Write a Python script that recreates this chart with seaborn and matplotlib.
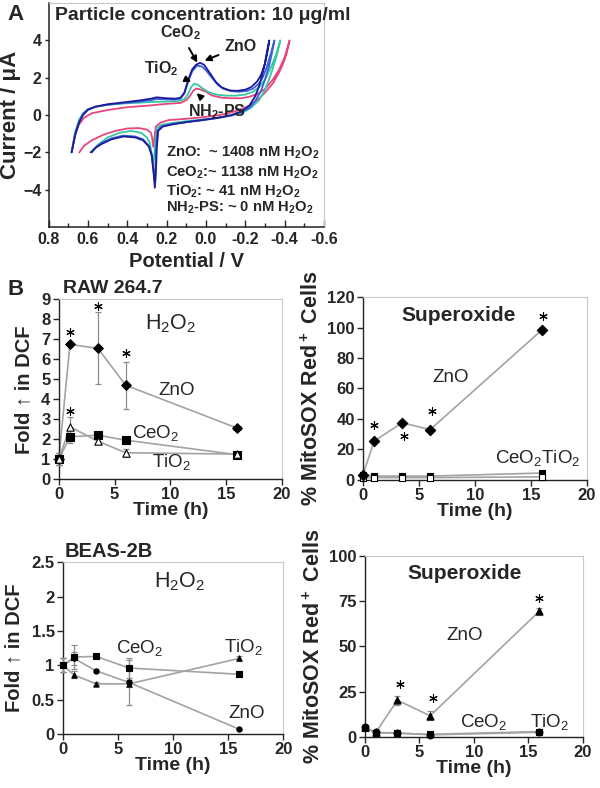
"""
ROS figure: (A) cyclic voltammetry of particles, (B) DCF / MitoSOX time courses
in RAW 264.7 and BEAS-2B cells.
"""
import matplotlib
matplotlib.use("Agg")
import matplotlib.pyplot as plt
import numpy as np
import pandas as pd
import seaborn as sns

# --------------------------------------------------------------------------- #
# Panel A data: CV traces (potential V, current uA)
# --------------------------------------------------------------------------- #
zno_cv_x = [0.683, 0.665, 0.645, 0.625, 0.60, 0.56, 0.50, 0.42, 0.34, 0.28, 0.25, 0.20, 0.16,
            0.13, 0.11, 0.09, 0.07, 0.05, 0.03, 0.01, -0.02, -0.05, -0.08, -0.12, -0.16, -0.20,
            -0.23, -0.26, -0.28, -0.30, -0.312, -0.322,
            -0.31, -0.30, -0.285, -0.27, -0.25, -0.22, -0.18, -0.13, -0.06, 0.02, 0.10, 0.17,
            0.22, 0.243, 0.25, 0.255, 0.26, 0.265, 0.275, 0.29, 0.32, 0.36, 0.42, 0.48, 0.53,
            0.56, 0.586]
zno_cv_y = [-2.0, -1.1, -0.4, 0.0, 0.28, 0.45, 0.58, 0.68, 0.78, 0.88, 0.95, 0.90, 0.88,
            0.92, 1.2, 1.9, 2.45, 2.7, 2.8, 2.7, 2.25, 1.78, 1.48, 1.32, 1.3, 1.36,
            1.5, 1.8, 2.15, 2.75, 3.35, 4.0,
            3.4, 2.8, 2.1, 1.55, 1.0, 0.5, 0.2, 0.0, -0.15, -0.27, -0.38, -0.5,
            -0.62, -0.85, -1.8, -3.2, -3.9, -3.2, -2.2, -1.7, -1.35, -1.2, -1.15, -1.3, -1.55,
            -1.75, -2.0]

ceo2_cv_x = [0.683, 0.665, 0.645, 0.625, 0.60, 0.56, 0.50, 0.42, 0.34, 0.28, 0.25, 0.20, 0.16,
             0.13, 0.11, 0.09, 0.07, 0.045, 0.02, 0.0, -0.03, -0.06, -0.09, -0.13, -0.17, -0.21,
             -0.24, -0.27, -0.29, -0.31, -0.33, -0.348,
             -0.335, -0.32, -0.30, -0.28, -0.25, -0.22, -0.18, -0.13, -0.06, 0.02, 0.10, 0.17,
             0.225, 0.248, 0.254, 0.258, 0.262, 0.267, 0.276, 0.29, 0.32, 0.36, 0.42, 0.48, 0.53,
             0.56, 0.58]
ceo2_cv_y = [-2.0, -1.0, -0.35, 0.05, 0.3, 0.45, 0.55, 0.64, 0.72, 0.8, 0.86, 0.84, 0.83,
             0.88, 1.15, 1.8, 2.35, 2.65, 2.6, 2.4, 2.0, 1.62, 1.4, 1.28, 1.25, 1.3,
             1.42, 1.7, 2.05, 2.6, 3.3, 4.0,
             3.3, 2.6, 1.9, 1.3, 0.75, 0.38, 0.15, -0.02, -0.16, -0.28, -0.38, -0.48,
             -0.6, -0.85, -1.8, -3.0, -3.5, -3.0, -2.1, -1.65, -1.3, -1.15, -1.1, -1.25, -1.5,
             -1.72, -2.0]

tio2_cv_x = [0.683, 0.665, 0.645, 0.625, 0.60, 0.56, 0.50, 0.42, 0.34, 0.28, 0.20, 0.14,
             0.11, 0.09, 0.075, 0.06, 0.04, 0.02, -0.01, -0.05, -0.10, -0.15, -0.20, -0.24,
             -0.27, -0.30, -0.33, -0.355, -0.378,
             -0.36, -0.34, -0.32, -0.30, -0.27, -0.23, -0.19, -0.13, -0.06, 0.02, 0.10, 0.17,
             0.225, 0.25, 0.258, 0.264, 0.27, 0.276, 0.285, 0.30, 0.33, 0.38, 0.44, 0.50,
             0.55, 0.58]
tio2_cv_y = [-2.0, -0.9, -0.25, 0.1, 0.32, 0.46, 0.55, 0.62, 0.66, 0.7, 0.72, 0.75,
             0.85, 1.15, 1.5, 1.68, 1.62, 1.45, 1.25, 1.1, 1.04, 1.04, 1.1, 1.25,
             1.5, 1.9, 2.55, 3.2, 4.0,
             3.2, 2.5, 1.9, 1.35, 0.8, 0.4, 0.15, -0.02, -0.14, -0.24, -0.33, -0.42,
             -0.52, -0.7, -1.4, -2.3, -2.6, -2.1, -1.5, -1.2, -0.95, -0.85, -0.95, -1.2,
             -1.6, -2.0]

nh2ps_cv_x = [0.683, 0.665, 0.645, 0.62, 0.58, 0.50, 0.40, 0.30, 0.20, 0.13, 0.10, 0.08,
              0.065, 0.05, 0.03, 0.0, -0.03, -0.08, -0.13, -0.18, -0.22, -0.26, -0.30, -0.34,
              -0.37, -0.40, -0.425,
              -0.41, -0.39, -0.37, -0.34, -0.30, -0.26, -0.22, -0.17, -0.12, -0.07, 0.02, 0.10,
              0.19, 0.23, 0.255, 0.262, 0.268, 0.274, 0.28, 0.30, 0.34, 0.40, 0.46, 0.52,
              0.58, 0.62, 0.644]
nh2ps_cv_y = [-2.0, -1.0, -0.5, -0.15, 0.1, 0.27, 0.42, 0.5, 0.6, 0.65, 0.8, 1.05,
              1.3, 1.42, 1.38, 1.25, 1.05, 0.93, 0.9, 0.9, 0.98, 1.12, 1.4, 1.9,
              2.4, 3.1, 4.0,
              3.3, 2.7, 2.25, 1.7, 1.2, 0.8, 0.5, 0.27, 0.12, 0.0, -0.12, -0.2,
              -0.27, -0.4, -0.62, -1.2, -1.7, -1.2, -0.95, -0.78, -0.7, -0.72, -0.85, -1.05,
              -1.35, -1.65, -2.0]

cv_labels = ["NH2-PS", "TiO2", "CeO2", "ZnO"]
cv_colors = ["#e8457f", "#35c8a2", "#3a5fe0", "#1c1c96"]

conc_lines = ["ZnO:  ~ 1408 nM H$_2$O$_2$",
              "CeO$_2$:~ 1138 nM H$_2$O$_2$",
              "TiO$_2$: ~ 41 nM H$_2$O$_2$",
              "NH$_2$-PS: ~ 0 nM H$_2$O$_2$"]

# --------------------------------------------------------------------------- #
# Panel B data
# --------------------------------------------------------------------------- #
t_raw = [0, 1, 3.5, 6, 16]
t_beas = [0, 1, 3, 6, 16]

raw_h2o2_zno = [1.0, 6.75, 6.55, 4.7, 2.55]
raw_h2o2_zno_err = [0.3, 0.1, 1.8, 1.17, 0.05]
raw_h2o2_ceo2 = [1.0, 2.12, 2.2, 1.95, 1.22]
raw_h2o2_ceo2_err = [0.3, 0.33, 0.1, 0.15, 0.05]
raw_h2o2_tio2 = [1.0, 2.62, 1.9, 1.32, 1.25]
raw_h2o2_tio2_err = [0.3, 0.5, 0.15, 0.2, 0.05]
raw_h2o2_star_t = [1, 1, 3.5, 6, 16]
raw_h2o2_star_y = [7.35, 3.4, 8.65, 6.3, 2.55]

raw_sox_zno = [3.5, 25.5, 37.5, 33.0, 98.5]
raw_sox_ceo2 = [3.5, 2.5, 2.5, 2.5, 4.5]
raw_sox_tio2 = [1.5, 1.5, 1.5, 1.5, 2.0]
raw_sox_err = [0.5, 0.5, 0.5, 0.5, 0.5]
raw_sox_star_t = [1, 3.7, 6.2, 16.1]
raw_sox_star_y = [36, 29, 45, 107.5]

beas_h2o2_ceo2 = [1.0, 1.12, 1.13, 0.96, 0.87]
beas_h2o2_ceo2_err = [0.1, 0.18, 0.02, 0.14, 0.02]
beas_h2o2_zno = [1.0, 1.1, 0.92, 0.75, 0.07]
beas_h2o2_zno_err = [0.1, 0.1, 0.02, 0.33, 0.01]
beas_h2o2_tio2 = [1.0, 0.86, 0.73, 0.73, 1.10]
beas_h2o2_tio2_err = [0.1, 0.05, 0.02, 0.05, 0.04]

beas_sox_zno = [5.3, 2.5, 20.3, 11.7, 69.3]
beas_sox_zno_err = [0.5, 0.5, 2.5, 2.5, 2.0]
beas_sox_ceo2 = [5.3, 2.5, 2.3, 1.2, 2.6]
beas_sox_tio2 = [5.0, 2.4, 2.0, 1.5, 3.0]
beas_sox_small_err = [0.3, 0.3, 0.3, 0.3, 0.3]
beas_sox_star_t = [3.25, 6.3, 16]
beas_sox_star_y = [29.5, 21.5, 76.5]

LINE_GRAY = "#a3a3a3"
FRAME_GRAY = "#c8c8c8"
STAR = (6, 2, 0)


def series_frame(t, parts):
    rows = []
    for name, vals, errs in parts:
        rows.append(pd.DataFrame({"time": t, "value": vals, "err": errs, "particle": name}))
    return pd.concat(rows, ignore_index=True)


def style_b_axes(ax, xmax, ymax, ystep, ylabels=None):
    ax.set_xlim(0, xmax)
    ax.set_ylim(0, ymax)
    ax.set_xticks(np.arange(0, xmax + 1, 5))
    yt = np.arange(0, ymax + ystep / 2, ystep)
    ax.set_yticks(yt)
    if ylabels is not None:
        ax.set_yticklabels(ylabels)
    for s in ["top", "right"]:
        ax.spines[s].set_color(FRAME_GRAY)
        ax.spines[s].set_linewidth(0.8)
    for s in ["left", "bottom"]:
        ax.spines[s].set_color("#222222")
        ax.spines[s].set_linewidth(1.0)
    ax.tick_params(direction="out", length=4, width=1, labelsize=12, pad=2)
    for lab in ax.get_xticklabels() + ax.get_yticklabels():
        lab.set_fontweight("bold")
    ax.set_xlabel("Time (h)", fontsize=14, fontweight="bold", labelpad=0)


def draw_series(ax, df, markers):
    for name in df["particle"].unique():
        sub = df[df["particle"] == name]
        sns.lineplot(data=sub, x="time", y="value", color=LINE_GRAY, lw=1.2,
                     estimator=None, sort=False, ax=ax, legend=False, clip_on=False)
    ax.errorbar(df["time"], df["value"], yerr=df["err"], fmt="none", ecolor="#8c8c8c",
                elinewidth=0.9, capsize=2.5, capthick=0.9, zorder=3, clip_on=False)
    for name in df["particle"].unique():
        sub = df[df["particle"] == name]
        m, fc, size = markers[name]
        sns.scatterplot(data=sub, x="time", y="value", marker=m, color=fc, edgecolor="black",
                        linewidth=0.8, s=size, ax=ax, legend=False, zorder=4, clip_on=False)
    ax.set_xlabel("")
    ax.set_ylabel("")


def draw_stars(ax, st, sy):
    sns.scatterplot(x=st, y=sy, marker=STAR, color="black", edgecolor="black",
                    linewidth=0.8, s=30, ax=ax, legend=False, zorder=5, clip_on=False)


def main():
    sns.set_style("ticks")
    plt.rcParams["font.family"] = ["Liberation Sans", "DejaVu Sans"]
    plt.rcParams["mathtext.default"] = "regular"

    fig = plt.figure(figsize=(6, 7.88), dpi=100)

    # --- Panel A ---------------------------------------------------------
    ax = fig.add_axes([0.081, 0.712, 0.459, 0.284])
    cv_x = [nh2ps_cv_x, tio2_cv_x, ceo2_cv_x, zno_cv_x]
    cv_y = [nh2ps_cv_y, tio2_cv_y, ceo2_cv_y, zno_cv_y]
    for xs, ys, c in zip(cv_x, cv_y, cv_colors):
        sns.lineplot(x=xs, y=ys, sort=False, estimator=None, color=c, lw=1.3, ax=ax)
    ax.set_xlim(0.8, -0.6)
    ax.set_ylim(-6, 6)
    ax.set_xticks([0.8, 0.6, 0.4, 0.2, 0.0, -0.2, -0.4, -0.6])
    ax.set_xticklabels(["0.8", "0.6", "0.4", "0.2", "0.0", "-0.2", "-0.4", "-0.6"])
    ax.set_xticks([0.7, 0.5, 0.3, 0.1, -0.1, -0.3, -0.5], minor=True)
    ax.set_yticks([-4, -2, 0, 2, 4])
    ax.tick_params(axis="x", which="major", direction="in", length=5, width=1, labelsize=11.5, pad=4)
    ax.tick_params(axis="x", which="minor", direction="in", length=3, width=1)
    ax.tick_params(axis="y", direction="out", length=3, width=1, labelsize=11.5, pad=2)
    for lab in ax.get_xticklabels() + ax.get_yticklabels():
        lab.set_fontweight("bold")
    for s in ["top", "right"]:
        ax.spines[s].set_color(FRAME_GRAY)
    for s in ["left", "bottom"]:
        ax.spines[s].set_color("#222222")
        ax.spines[s].set_linewidth(1.1)
    ax.set_xlabel("Potential / V", fontsize=14.5, fontweight="bold", labelpad=3)
    ax.set_ylabel("Current / μA", fontsize=16, fontweight="bold", labelpad=2)
    ax.text(0.023, 0.946, "Particle concentration: 10 μg/ml", transform=ax.transAxes,
            fontsize=14, fontweight="bold", va="center", ha="left")

    arrow = dict(arrowstyle="-|>", color="black", lw=1.4, mutation_scale=9)
    lab = dict(fontsize=11.5, fontweight="bold", ha="center", va="center")
    ax.annotate("CeO$_2$", xy=(0.037, 2.68), xytext=(0.13, 4.4), arrowprops=arrow, **lab)
    ax.annotate("ZnO", xy=(0.02, 2.86), xytext=(-0.175, 3.7), arrowprops=arrow, **lab)
    ax.annotate("TiO$_2$", xy=(0.062, 1.72), xytext=(0.225, 2.5), arrowprops=arrow, **lab)
    ax.text(-0.055, 0.18, "NH$_2$-PS", **lab)
    ax.annotate("", xy=(0.058, 1.28), xytext=(0.012, 0.82), arrowprops=arrow)
    for yv, txt in zip([-2.04, -3.1, -4.1, -5.0], conc_lines):
        ax.text(0.205, yv, txt, fontsize=10.6, fontweight="bold", ha="left", va="center")

    fig.text(0.012, 0.981, "A", fontsize=16, fontweight="bold", va="center")
    fig.text(0.012, 0.632, "B", fontsize=16, fontweight="bold", va="center")

    txt = dict(fontsize=13.5, ha="center", va="center")

    # --- RAW 264.7, H2O2 -------------------------------------------------
    ax = fig.add_axes([0.098, 0.392, 0.372, 0.228])
    df = series_frame(t_raw, [("ZnO", raw_h2o2_zno, raw_h2o2_zno_err),
                              ("CeO2", raw_h2o2_ceo2, raw_h2o2_ceo2_err),
                              ("TiO2", raw_h2o2_tio2, raw_h2o2_tio2_err)])
    draw_series(ax, df, {"ZnO": ("D", "black", 24), "CeO2": ("s", "black", 28),
                         "TiO2": ("^", "white", 28)})
    draw_stars(ax, raw_h2o2_star_t, raw_h2o2_star_y)
    style_b_axes(ax, 20, 9, 1)
    ax.set_ylabel("Fold ↑ in DCF", fontsize=14.5, fontweight="bold", labelpad=6)
    ax.text(10, 7.8, "H$_2$O$_2$", fontsize=15.5, ha="center", va="center")
    ax.text(10.6, 4.45, "ZnO", **txt)
    ax.text(8.7, 2.3, "CeO$_2$", **txt)
    ax.text(10.1, 0.85, "TiO$_2$", **txt)
    fig.text(0.105, 0.634, "RAW 264.7", fontsize=14, fontweight="bold", va="center")

    # --- RAW 264.7, superoxide ------------------------------------------
    ax = fig.add_axes([0.605, 0.391, 0.373, 0.232])
    df = series_frame(t_raw, [("CeO2", raw_sox_ceo2, raw_sox_err),
                              ("TiO2", raw_sox_tio2, raw_sox_err),
                              ("ZnO", raw_sox_zno, raw_sox_err)])
    draw_series(ax, df, {"ZnO": ("D", "black", 28), "CeO2": ("s", "black", 22),
                         "TiO2": ("s", "white", 16)})
    draw_stars(ax, raw_sox_star_t, raw_sox_star_y)
    style_b_axes(ax, 20, 120, 20)
    ax.set_ylabel("% MitoSOX Red$^+$ Cells", fontsize=15.5, fontweight="bold", labelpad=3)
    ax.text(8.5, 108, "Superoxide", fontsize=15, fontweight="bold", ha="center", va="center")
    ax.text(7.8, 67, "ZnO", **txt)
    ax.text(15.6, 14.5, "CeO$_2$TiO$_2$", **txt)

    # --- BEAS-2B, H2O2 ---------------------------------------------------
    ax = fig.add_axes([0.105, 0.0685, 0.367, 0.218])
    df = series_frame(t_beas, [("CeO2", beas_h2o2_ceo2, beas_h2o2_ceo2_err),
                               ("ZnO", beas_h2o2_zno, beas_h2o2_zno_err),
                               ("TiO2", beas_h2o2_tio2, beas_h2o2_tio2_err)])
    draw_series(ax, df, {"ZnO": ("o", "black", 14), "CeO2": ("s", "black", 14),
                         "TiO2": ("^", "black", 14)})
    style_b_axes(ax, 20, 2.5, 0.5, ["0", "0.5", "1", "1.5", "2", "2.5"])
    ax.set_ylabel("Fold ↑ in DCF", fontsize=14.5, fontweight="bold", labelpad=6)
    ax.text(10.6, 2.21, "H$_2$O$_2$", fontsize=15.5, ha="center", va="center")
    ax.text(7.0, 1.25, "CeO$_2$", **txt)
    ax.text(16.4, 1.27, "TiO$_2$", **txt)
    ax.text(16.7, 0.3, "ZnO", **txt)
    fig.text(0.108, 0.3, "BEAS-2B", fontsize=14.5, fontweight="bold", va="center")

    # --- BEAS-2B, superoxide --------------------------------------------
    ax = fig.add_axes([0.608, 0.0647, 0.363, 0.23])
    df = series_frame(t_beas, [("CeO2", beas_sox_ceo2, beas_sox_small_err),
                               ("TiO2", beas_sox_tio2, beas_sox_small_err),
                               ("ZnO", beas_sox_zno, beas_sox_zno_err)])
    draw_series(ax, df, {"ZnO": ("^", "black", 26), "CeO2": ("o", "black", 24),
                         "TiO2": ("s", "black", 18)})
    draw_stars(ax, beas_sox_star_t, beas_sox_star_y)
    style_b_axes(ax, 20, 100, 25)
    ax.set_ylabel("% MitoSOX Red$^+$ Cells", fontsize=15.5, fontweight="bold", labelpad=3)
    ax.text(9.2, 90.3, "Superoxide", fontsize=15, fontweight="bold", ha="center", va="center")
    ax.text(9.2, 55.8, "ZnO", **txt)
    ax.text(10.9, 8.5, "CeO$_2$", **txt)
    ax.text(17.0, 8.5, "TiO$_2$", **txt)

    fig.savefig("out.png", dpi=100)
    plt.close(fig)


if __name__ == "__main__":
    main()
